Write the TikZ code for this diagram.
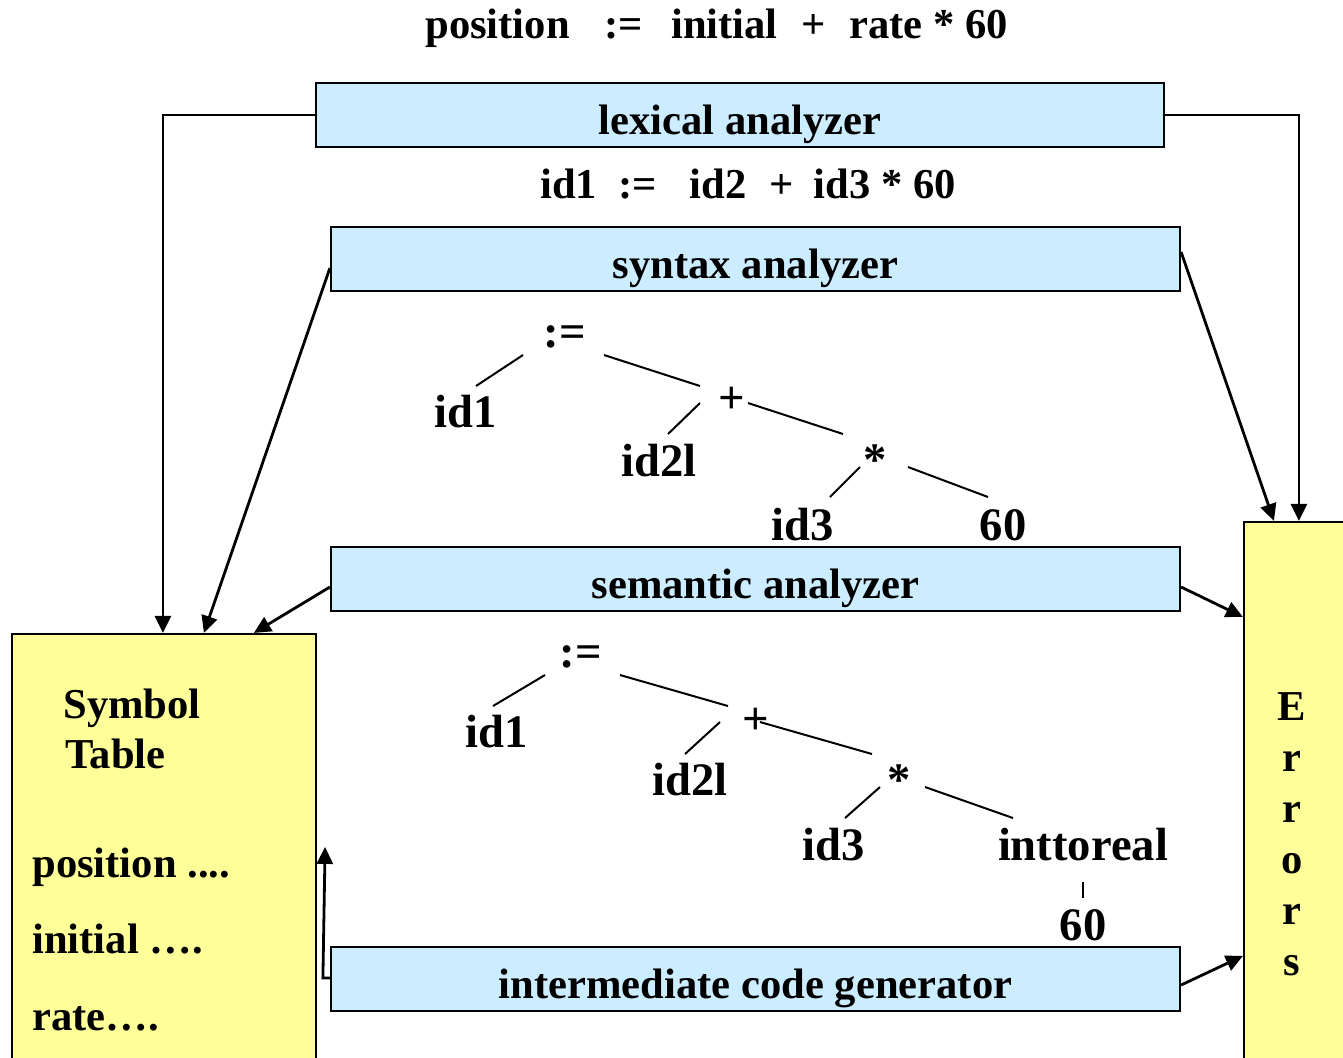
\documentclass[tikz,border=0pt]{standalone}
\usepackage{fontspec}
\setmainfont{Liberation Serif}
\usetikzlibrary{arrows.meta,calc}
\definecolor{boxblue}{HTML}{CCECFF}
\definecolor{boxyellow}{HTML}{FFFF99}
\begin{document}
\begin{tikzpicture}[x=0.5pt,y=-0.5pt,
  phase/.style={draw=black,line width=1.1pt,fill=boxblue,minimum width=424.5pt,minimum height=32pt,inner sep=0pt,text height=20pt,text depth=1pt,font=\fontsize{21.3}{25}\selectfont\bfseries},
  store/.style={draw=black,line width=1.1pt,fill=boxyellow,inner sep=0pt},
  txt/.style={font=\fontsize{21.3}{25}\selectfont\bfseries,inner sep=0pt,anchor=base west},
  tr/.style={font=\fontsize{23.3}{27}\selectfont\bfseries,inner sep=0pt,anchor=base},
  arr/.style={line width=1.4pt,-{Triangle[length=8.5pt,width=8pt]}},
  treeline/.style={line width=1pt}]
\useasboundingbox (0,0) rectangle (1343,1057);

% phase boxes
\node[phase,minimum width=424pt] (lex) at (740,115) {lexical analyzer};
\node[phase] (syn) at (755.5,259) {syntax analyzer};
\node[phase] (sem) at (755.5,579) {semantic analyzer};
\node[phase] (icg) at (755.5,979) {intermediate code generator};

% stores
\node[store,minimum width=152pt,minimum height=218pt] (sym) at (164,852) {};
\node[store,minimum width=53pt,minimum height=274pt] (err) at (1297,796) {};

% top texts
\node[txt] (src) at (425,38) {position\hspace{17.5pt}:=\hspace{14pt}initial\hspace{12pt}+\hspace{11.5pt}rate * 60};
\node[txt] (tok) at (540,198) {id1\hspace{10.5pt}:=\hspace{16.5pt}id2\hspace{11.5pt}+\hspace{10pt}id3 * 60};

% symbol table contents
\node[txt] (symt) at (63,718) {Symbol};
\node[txt] (tabl) at (65,768) {Table};
\node[txt] (sp) at (32,877) {position ....};
\node[txt] (si) at (32,953) {initial ….};
\node[txt] (sr) at (32,1030) {rate….};

% errors letters
\foreach \c [count=\k] in {E,r,r,o,r,s}
  \node[txt,anchor=base] (err\k) at (1292,{720+51*(\k-1)}) {\c};

% syntax tree
\node[tr] (a1) at (565,347) {:=};
\node[tr] (b1) at (466,427) {id1};
\node[tr] (c1) at (732,413) {+};
\node[tr] (d1) at (659,476) {id2l};
\node[tr] (e1) at (875,475) {*};
\node[tr] (f1) at (803,540) {id3};
\node[tr] (g1) at (1003,540) {60};
\draw[treeline] ($(b1.base)+(10,-41)$) -- ($(a1.base)+(-42,8)$);
\draw[treeline] ($(a1.base)+(39,8)$) -- ($(c1.base)+(-32,-27)$);
\draw[treeline] ($(c1.base)+(-32,-10)$) -- ($(d1.base)+(9,-42)$);
\draw[treeline] ($(c1.base)+(16,-10)$) -- ($(e1.base)+(-32,-41)$);
\draw[treeline] ($(e1.base)+(-15,-8)$) -- ($(f1.base)+(27,-43)$);
\draw[treeline] ($(e1.base)+(33,-8)$) -- ($(g1.base)+(-15,-43)$);

% semantic tree
\node[tr] (a2) at (581,667) {:=};
\node[tr] (b2) at (497,747) {id1};
\node[tr] (c2) at (756,734) {+};
\node[tr] (d2) at (690,795) {id2l};
\node[tr] (e2) at (899,795) {*};
\node[tr] (f2) at (834,860) {id3};
\node[tr] (g2) at (1083,860) {inttoreal};
\node[tr] (h2) at (1083,940) {60};
\draw[treeline] ($(b2.base)+(-4,-41)$) -- ($(a2.base)+(-36,8)$);
\draw[treeline] ($(a2.base)+(39,8)$) -- ($(c2.base)+(-28,-28)$);
\draw[treeline] ($(c2.base)+(-36,-12)$) -- ($(d2.base)+(-5,-41)$);
\draw[treeline] ($(c2.base)+(4,-12)$) -- ($(e2.base)+(-27,-41)$);
\draw[treeline] ($(e2.base)+(-19,-8)$) -- ($(f2.base)+(11,-42)$);
\draw[treeline] ($(e2.base)+(26,-8)$) -- ($(g2.base)+(-70,-42)$);
\draw[treeline] ($(g2.base)+(0,22)$) -- ($(h2.base)+(0,-42)$);

% connectors
\draw[arr] (lex.west) -| ($(sym.north west)+(152,0)$);
\draw[arr] (lex.east) -| ($(err.north west)+(56,0)$);
\draw[arr] ($(syn.west)+(0,9)$) -- ($(sym.north west)+(193,0)$);
\draw[arr] ($(syn.east)+(0,-7)$) -- ($(err.north west)+(31,0)$);
\draw[arr] ($(sem.west)+(0,8)$) -- ($(sym.north west)+(243,0)$);
\draw[arr] ($(sem.east)+(0,8)$) -- ($(err.north west)+(0,96)$);
\draw[arr] ($(icg.east)+(0,6)$) -- ($(err.north west)+(0,435)$);
\draw[arr] ($(icg.west)+(0,-1)$) -- ++(-7,0) -- ($(sym.north east)+(8,214)$);
\end{tikzpicture}
\end{document}
